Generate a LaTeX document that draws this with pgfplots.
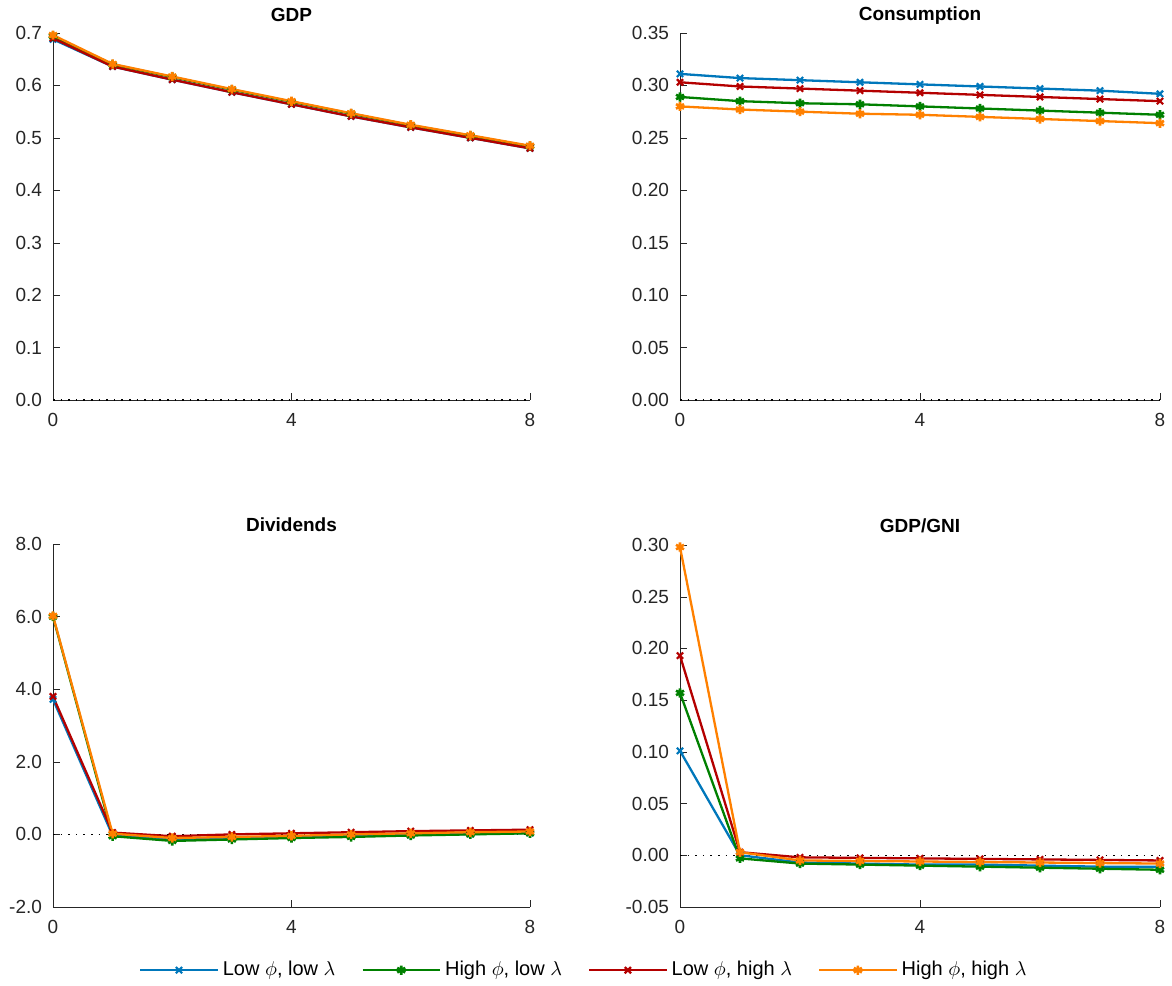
\documentclass[border=0pt]{standalone}
\usepackage{fontspec}
\setmainfont{Liberation Sans}
\usepackage{pgfplots}
\pgfplotsset{compat=1.18}
\definecolor{cblue}{RGB}{0,119,187}
\definecolor{cgreen}{RGB}{0,128,0}
\definecolor{cred}{RGB}{180,0,0}
\definecolor{corange}{RGB}{255,128,0}
\definecolor{axg}{RGB}{38,38,38}
\pgfplotsset{
  irf/.style={
    scale only axis,
    anchor=south west,
    axis x line*=bottom, axis y line*=left,
    axis line style={axg,-},
    tick align=inside, major tick length=3.5pt,
    tick style={axg},
    xmin=0, xmax=8, xtick={0,4,8}, xticklabels={0,4,8},
    tick label style={font=\fontsize{9.5}{11}\selectfont, text=axg},
    yticklabel style={xshift=-2pt},
    xticklabel style={yshift=-3pt},
    title style={font=\fontsize{9.5}{11}\selectfont\bfseries, at={(0.5,1)}, anchor=base, yshift=0pt},
    clip=false,
  },
  sb/.style={cblue, line width=1.15pt, mark=x, mark size=2.2pt, mark options={solid, line width=1.1pt}},
  sg/.style={cgreen, line width=1.15pt, mark=asterisk, mark size=2.3pt, mark options={solid, line width=1.3pt}},
  sr/.style={cred, line width=1.15pt, mark=x, mark size=2.2pt, mark options={solid, line width=1.1pt}},
  so/.style={corange, line width=1.15pt, mark=asterisk, mark size=2.3pt, mark options={solid, line width=1.3pt}},
  zl/.style={black, dash pattern=on 0.8pt off 3pt, line width=0.6pt, mark=none, forget plot},
}
\begin{document}
\begin{tikzpicture}
\useasboundingbox (0,0) rectangle (586pt,492.5pt);
% GDP
\begin{axis}[irf, at={(26.5pt,292.5pt)}, width=238.5pt, height=183.5pt,
  title={GDP}, ymin=0, ymax=0.7, ytick={0,0.1,0.2,0.3,0.4,0.5,0.6,0.7},
  yticklabels={0.0,0.1,0.2,0.3,0.4,0.5,0.6,0.7}]
\addplot[zl] coordinates {(0,0) (8,0)};
\addplot[sb] coordinates {(0,0.688) (1,0.636) (2,0.611) (3,0.587) (4,0.564) (5,0.541) (6,0.520) (7,0.500) (8,0.480)};
\addplot[sg] coordinates {(0,0.694) (1,0.640) (2,0.616) (3,0.592) (4,0.569) (5,0.546) (6,0.524) (7,0.504) (8,0.484)};
\addplot[sr] coordinates {(0,0.690) (1,0.636) (2,0.611) (3,0.587) (4,0.564) (5,0.541) (6,0.520) (7,0.500) (8,0.480)};
\addplot[so] coordinates {(0,0.696) (1,0.641) (2,0.617) (3,0.593) (4,0.570) (5,0.547) (6,0.525) (7,0.505) (8,0.485)};
\end{axis}
% Consumption
\begin{axis}[irf, at={(340pt,292.5pt)}, width=240pt, height=183.5pt,
  title={Consumption}, ymin=0, ymax=0.35, ytick={0,0.05,0.1,0.15,0.2,0.25,0.3,0.35},
  yticklabels={0.00,0.05,0.10,0.15,0.20,0.25,0.30,0.35}]
\addplot[zl] coordinates {(0,0) (8,0)};
\addplot[sb] coordinates {(0,0.311) (1,0.307) (2,0.305) (3,0.303) (4,0.301) (5,0.299) (6,0.297) (7,0.295) (8,0.292)};
\addplot[sg] coordinates {(0,0.289) (1,0.285) (2,0.283) (3,0.282) (4,0.280) (5,0.278) (6,0.276) (7,0.274) (8,0.272)};
\addplot[sr] coordinates {(0,0.303) (1,0.299) (2,0.297) (3,0.295) (4,0.293) (5,0.291) (6,0.289) (7,0.287) (8,0.285)};
\addplot[so] coordinates {(0,0.280) (1,0.277) (2,0.275) (3,0.273) (4,0.272) (5,0.270) (6,0.268) (7,0.266) (8,0.264)};
\end{axis}
% Dividends
\begin{axis}[irf, at={(26.5pt,39pt)}, width=238.5pt, height=181.5pt,
  title={Dividends}, ymin=-2, ymax=8, ytick={-2,0,2,4,6,8},
  yticklabels={-2.0,0.0,2.0,4.0,6.0,8.0},
  legend style={at={(1.115,-0.174)}, anchor=center, legend columns=4, draw=none, fill=none,
    font=\fontsize{10}{12}\selectfont, /tikz/every even column/.append style={column sep=11pt}},
  legend image code/.code={\draw[mark repeat=2,mark phase=2] plot coordinates {(0cm,0cm) (0.68cm,0cm) (1.36cm,0cm)};}]
\addplot[zl] coordinates {(0,0) (8,0)};
\addplot[sb] coordinates {(0,3.72) (1,-0.03) (2,-0.13) (3,-0.10) (4,-0.07) (5,-0.04) (6,-0.01) (7,0.01) (8,0.04)};
\addplot[sg] coordinates {(0,6.0) (1,-0.05) (2,-0.18) (3,-0.14) (4,-0.10) (5,-0.07) (6,-0.03) (7,0.0) (8,0.03)};
\addplot[sr] coordinates {(0,3.8) (1,0.05) (2,-0.05) (3,0.0) (4,0.03) (5,0.06) (6,0.09) (7,0.11) (8,0.13)};
\addplot[so] coordinates {(0,6.02) (1,0.02) (2,-0.10) (3,-0.07) (4,-0.04) (5,0.0) (6,0.03) (7,0.06) (8,0.08)};
\legend{{Low $\phi$, low $\lambda$}, {High $\phi$, low $\lambda$}, {Low $\phi$, high $\lambda$}, {High $\phi$, high $\lambda$}}
\end{axis}
% GDP/GNI
\begin{axis}[irf, at={(340pt,39pt)}, width=240pt, height=181pt,
  title={GDP/GNI}, ymin=-0.05, ymax=0.30, ytick={-0.05,0,0.05,0.1,0.15,0.2,0.25,0.3},
  yticklabels={-0.05,0.00,0.05,0.10,0.15,0.20,0.25,0.30}]
\addplot[zl] coordinates {(0,0) (8,0)};
\addplot[sb] coordinates {(0,0.101) (1,0.000) (2,-0.007) (3,-0.008) (4,-0.009) (5,-0.009) (6,-0.010) (7,-0.011) (8,-0.011)};
\addplot[sg] coordinates {(0,0.157) (1,-0.003) (2,-0.008) (3,-0.009) (4,-0.010) (5,-0.011) (6,-0.012) (7,-0.013) (8,-0.014)};
\addplot[sr] coordinates {(0,0.193) (1,0.003) (2,-0.002) (3,-0.0025) (4,-0.003) (5,-0.0035) (6,-0.004) (7,-0.0045) (8,-0.005)};
\addplot[so] coordinates {(0,0.298) (1,0.003) (2,-0.005) (3,-0.0055) (4,-0.006) (5,-0.0065) (6,-0.007) (7,-0.0075) (8,-0.008)};
\end{axis}
\end{tikzpicture}
\end{document}
